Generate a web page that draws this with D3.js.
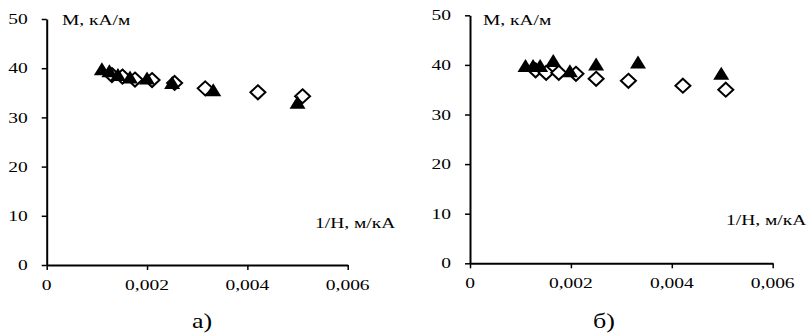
<!DOCTYPE html>
<html><head><meta charset="utf-8">
<script src="https://cdn.jsdelivr.net/npm/d3@7"></script>
<style>body{margin:0;background:#fff}svg{display:block}</style>
</head><body>
<script>
// ---- data ----
const xTicks = [0, 0.002, 0.004, 0.006];
const xTickLabels = ["0", "0,002", "0,004", "0,006"];
const yTicks = [0, 10, 20, 30, 40, 50];
const yTickLabels = ["0", "10", "20", "30", "40", "50"];
const yTitle = "M, кА/м";
const xTitle = "1/H, м/кА";
const panelLabels = ["а)", "б)"];

// panel a
const aTriX = [0.0011, 0.00125, 0.00142, 0.00166, 0.002, 0.0025, 0.00332, 0.005];
const aTriY = [39.8, 39.4, 38.6, 38.1, 37.9, 37.0, 35.5, 33.0];
const aDiaX = [0.0013, 0.00151, 0.00176, 0.0021, 0.00255, 0.00316, 0.00421, 0.0051];
const aDiaY = [38.6, 38.3, 37.7, 37.6, 37.0, 35.9, 35.1, 34.3];
// panel б
const bTriX = [0.0011, 0.00125, 0.00139, 0.00165, 0.00198, 0.0025, 0.00333, 0.00498];
const bTriY = [39.8, 39.8, 39.8, 40.8, 38.7, 40.1, 40.5, 38.2];
const bDiaX = [0.0013, 0.00151, 0.00176, 0.0021, 0.0025, 0.00314, 0.00422, 0.00507];
const bDiaY = [38.9, 38.4, 38.4, 38.2, 37.2, 36.8, 35.8, 35.0];

const W = 809, H = 335;
const svg = d3.select("body").append("svg").attr("width", W).attr("height", H);
const FONT = "'Liberation Serif','Times New Roman',serif";
const SX = 1.3;

function txt(g, x, y, s, size, anchor, baseline) {
  g.append("text")
    .attr("transform", `translate(${x},${y}) scale(${SX},1)`)
    .attr("text-anchor", anchor)
    .attr("dy", baseline === "middle" ? "0.34em" : 0)
    .attr("font-family", FONT).attr("font-size", size).attr("fill", "#000")
    .text(s);
}

const panels = [
  {x0: 46.7, x1: 347.7, y0: 265, y1: 19, tri: [aTriX, aTriY], dia: [aDiaX, aDiaY],
   ytx: 62, yty: 25, xtx: 315, xty: 228, lab: panelLabels[0], labx: 202},
  {x0: 470, x1: 772.7, y0: 263.3, y1: 15.3, tri: [bTriX, bTriY], dia: [bDiaX, bDiaY],
   ytx: 483, yty: 25, xtx: 726, xty: 225, lab: panelLabels[1], labx: 604}
];

const triPath = "M0,-7L8,6L-8,6Z";
const diaPath = "M0,-7L7.5,0L0,7L-7.5,0Z";

panels.forEach(p => {
  const x = d3.scaleLinear().domain([0, 0.006]).range([p.x0, p.x1]);
  const y = d3.scaleLinear().domain([0, 50]).range([p.y0, p.y1]);
  const g = svg.append("g");

  // axes
  const xa = g.append("g").attr("transform", `translate(0,${p.y0})`)
    .call(d3.axisBottom(x).tickValues(xTicks).tickSize(5).tickSizeOuter(0).tickFormat(""));
  const ya = g.append("g").attr("transform", `translate(${p.x0},0)`)
    .call(d3.axisLeft(y).tickValues(yTicks).tickSize(5).tickSizeOuter(0).tickFormat(""));
  [xa, ya].forEach(a => {
    a.select(".domain").attr("stroke", "#000").attr("stroke-width", 2);
    a.selectAll(".tick line").attr("stroke", "#000").attr("stroke-width", 1.5);
  });

  // tick labels
  xTicks.forEach((v, i) => txt(g, x(v), p.y0 + 25, xTickLabels[i], 15, "middle"));
  yTicks.forEach((v, i) => txt(g, p.x0 - 19, y(v), yTickLabels[i], 15, "end", "middle"));

  // titles
  txt(g, p.ytx, p.yty, yTitle, 15, "start");
  txt(g, p.xtx, p.xty, xTitle, 15, "start");
  txt(g, p.labx, 328, p.lab, 20, "middle");

  // diamonds (white fill) then triangles on top
  g.append("g").selectAll("path").data(p.dia[0].map((v, i) => [v, p.dia[1][i]]))
    .join("path").attr("d", diaPath)
    .attr("transform", d => `translate(${x(d[0])},${y(d[1])})`)
    .attr("fill", "#fff").attr("stroke", "#000").attr("stroke-width", 2);
  g.append("g").selectAll("path").data(p.tri[0].map((v, i) => [v, p.tri[1][i]]))
    .join("path").attr("d", triPath)
    .attr("transform", d => `translate(${x(d[0])},${y(d[1])})`)
    .attr("fill", "#000");
});
</script>
</body></html>
